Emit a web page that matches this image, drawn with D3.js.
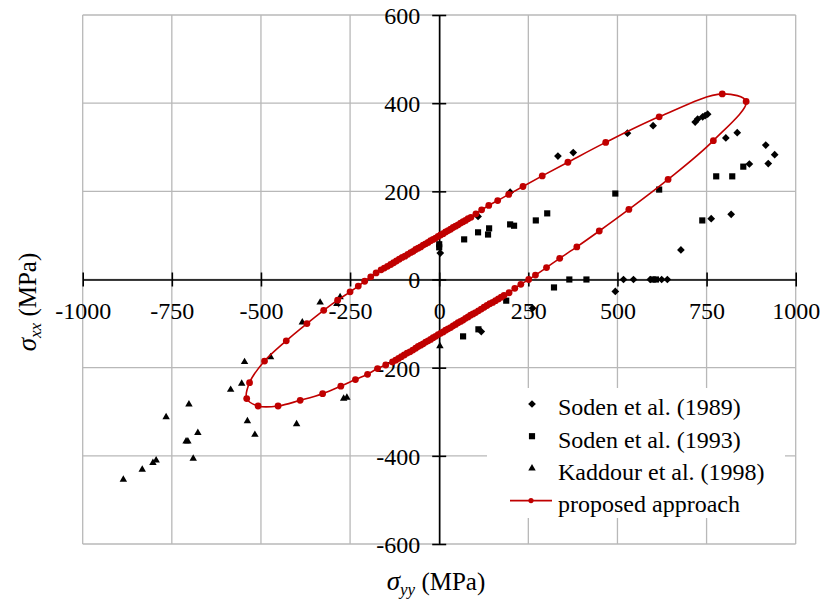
<!DOCTYPE html>
<html>
<head>
<meta charset="utf-8">
<script src="https://cdn.jsdelivr.net/npm/d3@7/dist/d3.min.js"></script>
<style>
  body { margin: 0; background: #fff; }
  svg text { font-family: "Liberation Serif", "Times New Roman", serif; fill: #000; }
</style>
</head>
<body>
<div id="chart"></div>
<script>
/* Biaxial failure envelope: sigma_yy vs sigma_xx, test data + proposed approach */

const xTicks = [-1000, -750, -500, -250, 0, 250, 500, 750, 1000];
const yTicks = [-600, -400, -200, 0, 200, 400, 600];

// Soden et al. (1989) — diamonds
const soden1989 = [
  [333, 280], [376, 288], [528, 332], [600, 349],
  [718, 357], [725, 364], [739, 369], [746, 372], [753, 375],
  [804, 321], [836, 333], [916, 305], [941, 283], [923, 263], [870, 262],
  [109, 143], [199, 198], [3, 60], [763, 138], [819, 148], [678, 67],
  [517, 0], [545, 0], [592, 0], [624, 0], [640, 0],
  [494, -27], [118, -118], [262, -65]
];

// Soden et al. (1993) — squares
const soden1993 = [
  [0, 80], [0, 73], [70, 91], [109, 107], [137, 102], [140, 116],
  [199, 125], [210, 122], [271, 134], [303, 150], [494, 195], [617, 204],
  [738, 134], [777, 234], [822, 234], [853, 256],
  [365, 0], [413, 0], [599, 0], [608, 0], [322, -18],
  [188, -48], [67, -129], [110, -113]
];

// Kaddour et al. (1998) — triangles
const kaddour1998 = [
  [-546, -187], [-473, -176], [-554, -236], [-585, -250], [-702, -283],
  [-766, -312], [-538, -321], [-517, -352], [-677, -348], [-710, -367],
  [-705, -367], [-690, -406], [-794, -410], [-803, -416], [-833, -431],
  [-886, -454], [-400, -328], [-384, -97], [-334, -52], [-278, -40],
  [-287, -55], [-268, -270], [-259, -268], [2, -151]
];

// proposed approach — closed envelope, read point by point (dense near the origin)
const proposed = [
  [-540, -270], [-532, -234], [-490, -185], [-429, -139], [-371, -100],
  [-324, -70], [-285, -47], [-250, -28], [-227, -15], [-209, -4], [-192, 6],
  [-177, 15], [-163, 22], [-154, 26], [-145, 30], [-136, 34], [-128, 38],
  [-120, 42], [-112, 46], [-104, 50], [-96, 53], [-88, 57], [-80, 61],
  [-73, 64], [-66, 68], [-59, 71], [-52, 74], [-45, 78], [-38, 81],
  [-31, 84], [-24, 88], [-17, 91], [-10, 94], [-3, 98], [4, 101],
  [11, 104], [18, 108], [25, 111], [32, 114], [39, 118], [46, 121],
  [53, 124], [60, 128], [67, 131], [74, 134], [81, 138], [89, 141],
  [103, 149], [119, 158], [139, 168], [164, 179], [195, 193], [235, 211],
  [289, 235], [361, 266], [467, 311], [617, 369], [794, 421], [861, 404],
  [769, 315], [642, 227], [532, 159], [449, 110], [386, 74], [338, 48],
  [301, 27], [270, 10], [251, 0], [229, -11], [212, -20], [196, -30],
  [182, -36], [174, -40], [166, -44], [158, -48], [150, -52], [142, -55],
  [134, -59], [126, -63], [118, -67], [110, -71], [102, -75], [95, -78],
  [88, -81], [81, -85], [74, -88], [67, -92], [60, -95], [53, -98],
  [46, -102], [39, -105], [32, -109], [25, -112], [18, -115], [11, -119],
  [4, -122], [-3, -125], [-10, -129], [-17, -132], [-24, -136], [-31, -139],
  [-38, -142], [-45, -146], [-52, -149], [-59, -152], [-66, -156], [-74, -160],
  [-82, -164], [-90, -167], [-98, -171], [-106, -175], [-114, -179],
  [-122, -183], [-131, -187],
  [-150, -194], [-173, -202], [-201, -215], [-235, -227], [-276, -242],
  [-327, -259], [-390, -274], [-452, -287], [-508, -287]
];

const legendItems = [
  { label: "Soden et al. (1989)", type: "diamond" },
  { label: "Soden et al. (1993)", type: "square" },
  { label: "Kaddour et al. (1998)", type: "triangle" },
  { label: "proposed approach", type: "line" }
];

const W = 823, H = 606;
const red = "#C00000";
const fontSize = 24;

const svg = d3.select("#chart").append("svg")
  .attr("width", W).attr("height", H);

const x = d3.scaleLinear().domain([-1000, 1000]).range([82.7, 795.7]);
const y = d3.scaleLinear().domain([-600, 600]).range([544, 15]);

// --- gridlines ---
const grid = svg.append("g").attr("stroke", "#b8b8b8").attr("stroke-width", 1.3);
grid.selectAll(".gx").data(xTicks).join("line")
  .attr("x1", d => x(d)).attr("x2", d => x(d))
  .attr("y1", y(600)).attr("y2", y(-600));
grid.selectAll(".gy").data(yTicks).join("line")
  .attr("x1", x(-1000)).attr("x2", x(1000))
  .attr("y1", d => y(d)).attr("y2", d => y(d));

// --- axes crossing at origin ---
const xAxis = svg.append("g")
  .attr("transform", `translate(0,${y(0)})`)
  .call(d3.axisBottom(x).tickValues(xTicks).tickSizeOuter(0).tickFormat(d => String(d)));
const yAxis = svg.append("g")
  .attr("transform", `translate(${x(0)},0)`)
  .call(d3.axisLeft(y).tickValues(yTicks).tickSizeOuter(0).tickFormat(d => String(d)));

[xAxis, yAxis].forEach(g => {
  g.attr("font-family", null).attr("font-size", null);
  g.select(".domain").attr("stroke", "#000").attr("stroke-width", 1.6);
  g.selectAll(".tick line").attr("stroke", "#000").attr("stroke-width", 1.6);
  g.selectAll(".tick text")
    .attr("font-size", fontSize)
    .attr("fill", "#000");
});
xAxis.selectAll(".tick line").attr("y1", -7).attr("y2", 7);
xAxis.selectAll(".tick text").attr("y", 31).attr("dy", "0.35em");
yAxis.selectAll(".tick line").attr("x1", -7).attr("x2", 7);
yAxis.selectAll(".tick text").attr("x", -19).attr("dy", "0.35em");

// --- data markers ---
const sym = {
  diamond: d3.symbol(d3.symbolSquare, 30),
  square: d3.symbol(d3.symbolSquare, 38),
  triangle: d3.symbol(d3.symbolTriangle, 24)
};
function markers(data, type) {
  svg.append("g").selectAll("path").data(data).join("path")
    .attr("d", sym[type])
    .attr("transform", d => `translate(${x(d[0])},${y(d[1])})` + (type === "diamond" ? " rotate(45)" : ""))
    .attr("fill", "#000");
}
markers(soden1989, "diamond");
markers(soden1993, "square");
markers(kaddour1998, "triangle");

// --- proposed approach ---
const line = d3.line()
  .x(d => x(d[0])).y(d => y(d[1]))
  .curve(d3.curveCatmullRomClosed.alpha(0.5));
svg.append("path").datum(proposed)
  .attr("d", line)
  .attr("fill", "none")
  .attr("stroke", red)
  .attr("stroke-width", 1.6);
svg.append("g").selectAll("circle").data(proposed).join("circle")
  .attr("cx", d => x(d[0])).attr("cy", d => y(d[1]))
  .attr("r", 3.4)
  .attr("fill", red);

// --- legend ---
const legend = svg.append("g");
legend.append("rect")
  .attr("x", 487).attr("y", 388).attr("width", 298).attr("height", 130)
  .attr("fill", "#fff");
legendItems.forEach((it, i) => {
  const cy = 404 + i * 32.2;
  const g = legend.append("g");
  if (it.type === "line") {
    g.append("line").attr("x1", 510).attr("x2", 552).attr("y1", cy).attr("y2", cy)
      .attr("stroke", red).attr("stroke-width", 1.6);
    g.append("circle").attr("cx", 531).attr("cy", cy).attr("r", 2.6).attr("fill", red);
  } else {
    g.append("path")
      .attr("d", sym[it.type])
      .attr("transform", `translate(532,${cy})` + (it.type === "diamond" ? " rotate(45)" : ""))
      .attr("fill", "#000");
  }
  g.append("text")
    .attr("x", 558).attr("y", cy + 3).attr("dy", "0.35em")
    .attr("font-size", fontSize)
    .text(it.label);
});

// --- axis titles ---
const xt = svg.append("text")
  .attr("x", 436).attr("y", 590)
  .attr("text-anchor", "middle")
  .attr("font-size", 25);
xt.append("tspan").attr("font-style", "italic").attr("font-size", 27).text("σ");
xt.append("tspan").attr("font-style", "italic").attr("font-size", 17).attr("dy", 5).text("yy");
xt.append("tspan").attr("dy", -5).text(" (MPa)");

const yt = svg.append("text")
  .attr("transform", "translate(36,302) rotate(-90)")
  .attr("text-anchor", "middle")
  .attr("font-size", 25);
yt.append("tspan").attr("font-style", "italic").attr("font-size", 27).text("σ");
yt.append("tspan").attr("font-style", "italic").attr("font-size", 17).attr("dy", 5).text("xx");
yt.append("tspan").attr("dy", -5).text(" (MPa)");
</script>
</body>
</html>
